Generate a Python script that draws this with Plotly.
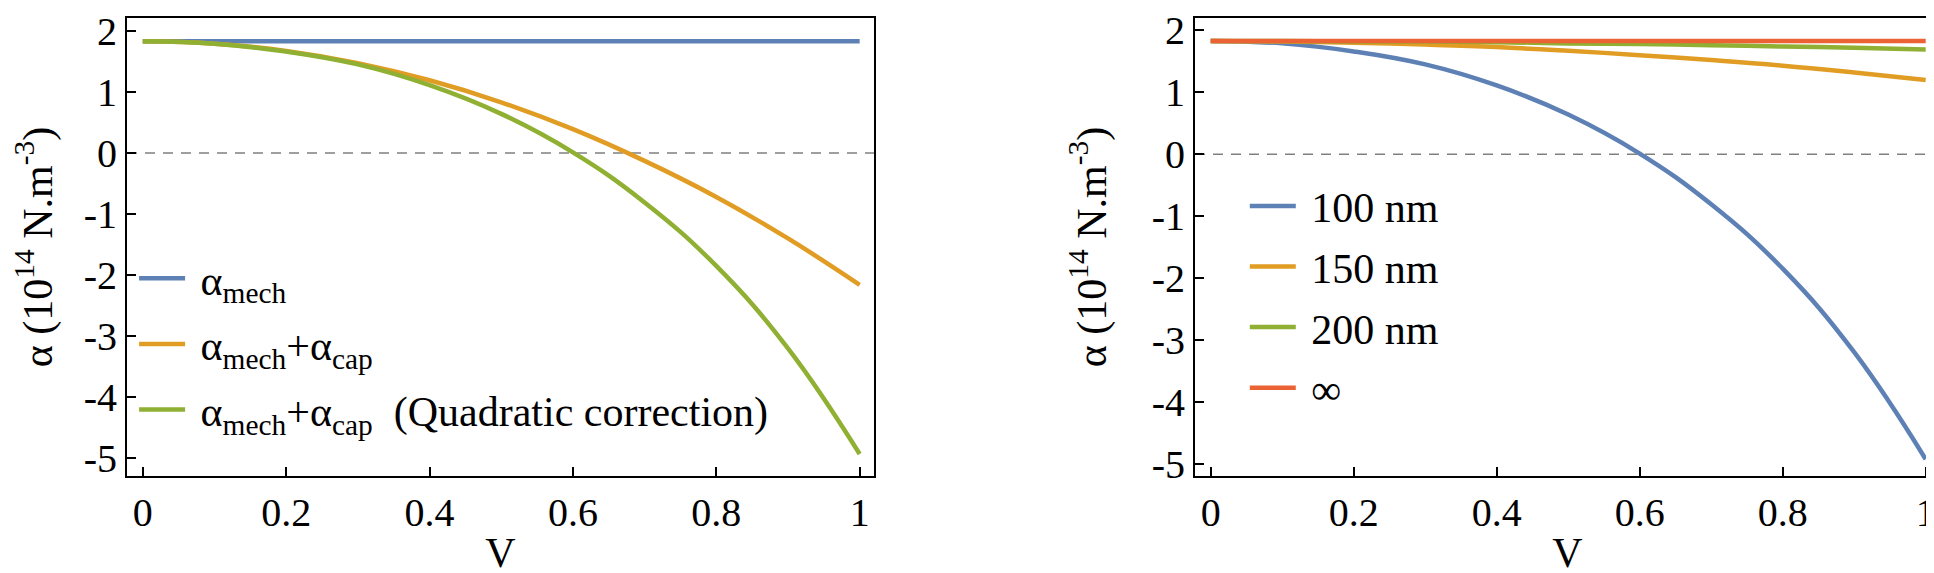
import plotly.graph_objects as go
from plotly.subplots import make_subplots

# ---- data ----
V = [0.0, 0.1, 0.2, 0.3, 0.4, 0.5, 0.6, 0.7, 0.8, 0.9, 1.0]

# left panel
alpha_mech = [1.83, 1.83, 1.83, 1.83, 1.83, 1.83, 1.83, 1.83, 1.83, 1.83, 1.83]
alpha_mech_cap = [1.83, 1.79, 1.67, 1.47, 1.19, 0.83, 0.39, -0.13, -0.72, -1.40, -2.16]
alpha_mech_cap_quad = [1.83, 1.79, 1.66, 1.45, 1.11, 0.64, 0.01, -0.81, -1.85, -3.20, -4.93]

# right panel
gap_100nm = [1.83, 1.79, 1.66, 1.45, 1.11, 0.64, 0.01, -0.81, -1.85, -3.20, -4.93]
gap_150nm = [1.83, 1.82, 1.80, 1.77, 1.73, 1.67, 1.60, 1.52, 1.43, 1.32, 1.20]
gap_200nm = [1.83, 1.83, 1.82, 1.82, 1.81, 1.79, 1.78, 1.76, 1.74, 1.72, 1.69]
gap_inf = [1.83, 1.83, 1.83, 1.83, 1.83, 1.83, 1.83, 1.83, 1.83, 1.83, 1.83]

x_tickvals = [0, 0.2, 0.4, 0.6, 0.8, 1]
x_ticktext = ["0", "0.2", "0.4", "0.6", "0.8", "1"]
y_tickvals = [-5, -4, -3, -2, -1, 0, 1, 2]
y_ticktext = ["-5", "-4", "-3", "-2", "-1", "0", "1", "2"]

left_names = ["α<sub>mech</sub>",
              "α<sub>mech</sub>+α<sub>cap</sub>",
              "α<sub>mech</sub>+α<sub>cap</sub>  (Quadratic correction)"]
right_names = ["100 nm", "150 nm", "200 nm", "∞"]

BLUE = "#5E81B5"
ORANGE = "#E19C24"
GREEN = "#8FB032"
RED = "#EB6235"

FONT = "Liberation Serif"
TICK_SIZE = 40
LEG_SIZE = 42
TITLE_SIZE = 42
PAD = "\u00a0"  # small gap between legend line sample and its text

fig = make_subplots(rows=1, cols=2)

for ys, name, col in zip([alpha_mech, alpha_mech_cap, alpha_mech_cap_quad], left_names,
                         [BLUE, ORANGE, GREEN]):
    fig.add_trace(go.Scatter(x=V, y=ys, name=PAD + name, mode="lines",
                             line=dict(color=col, width=4.5, shape="spline", smoothing=1.2),
                             legend="legend", legendgroup=name), row=1, col=1)

for ys, name, col in zip([gap_100nm, gap_150nm, gap_200nm, gap_inf], right_names,
                         [BLUE, ORANGE, GREEN, RED]):
    fig.add_trace(go.Scatter(x=V, y=ys, name=PAD + name, mode="lines",
                             line=dict(color=col, width=4.5, shape="spline", smoothing=1.2),
                             legend="legend2", legendgroup=name), row=1, col=2)

for c in (1, 2):
    fig.add_hline(y=0, line=dict(color="#808080", width=1.5, dash="10px,8px"),
                  row=1, col=c, layer="below")

axis_common = dict(showline=True, linecolor="black", linewidth=2, mirror=True,
                   ticks="inside", ticklen=9, tickwidth=1.5, tickcolor="black",
                   showgrid=False, zeroline=False, ticklabeloverflow="allow",
                   tickfont=dict(family=FONT, size=TICK_SIZE, color="black"))

fig.update_xaxes(**axis_common, range=[-0.022, 1.02], tickvals=x_tickvals,
                 ticktext=x_ticktext,
                 title=dict(text="V", font=dict(family=FONT, size=TITLE_SIZE, color="black"),
                            standoff=4))
fig.update_yaxes(**axis_common, tickvals=y_tickvals, ticktext=y_ticktext,
                 title=dict(text="α (10<sup>14</sup> N.m<sup>-3</sup>)",
                            font=dict(family=FONT, size=TITLE_SIZE, color="black"),
                            standoff=32))
fig.update_yaxes(range=[-5.29, 2.21], row=1, col=1)
fig.update_yaxes(range=[-5.20, 2.20], row=1, col=2)

fig.update_layout(
    width=1934, height=573,
    margin=dict(l=0, r=0, t=7, b=105),
    paper_bgcolor="white", plot_bgcolor="white",
    font=dict(family=FONT, color="black"),
    xaxis=dict(domain=[119 / 1934, 866 / 1934]),
    xaxis2=dict(domain=[1187 / 1934, 1932 / 1934]),
    legend=dict(x=0.0652, y=0.5055, xanchor="left", yanchor="top",
                bgcolor="rgba(0,0,0,0)", itemwidth=46, tracegroupgap=8,
                font=dict(family=FONT, size=LEG_SIZE, color="black")),
    legend2=dict(x=0.6395, y=0.6635, xanchor="left", yanchor="top",
                 bgcolor="rgba(0,0,0,0)", itemwidth=46, tracegroupgap=3,
                 font=dict(family=FONT, size=LEG_SIZE, color="black")),
)

fig.write_html("out.html")
